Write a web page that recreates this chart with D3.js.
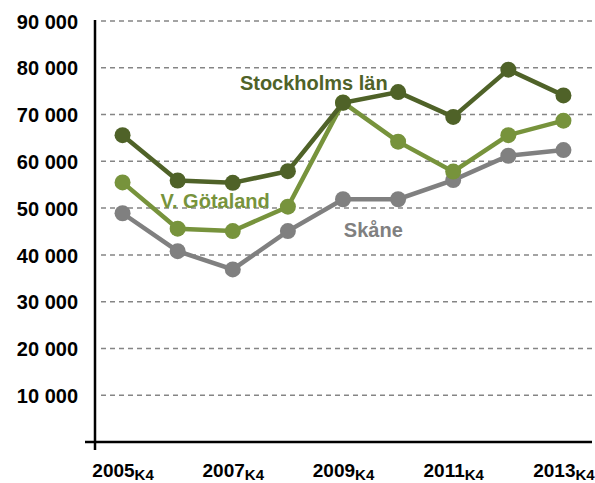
<!DOCTYPE html>
<html>
<head>
<meta charset="utf-8">
<script src="https://cdn.jsdelivr.net/npm/d3@7/dist/d3.min.js"></script>
<style>
  body { margin: 0; background: #fff; }
  text { font-family: "Liberation Sans", Arial, sans-serif; font-weight: bold; }
</style>
</head>
<body>
<script>
// years on the x axis (quarter 4 of each year)
var years = ["2005", "2006", "2007", "2008", "2009", "2010", "2011", "2012", "2013"];

// values
var stockholm = [65600, 55900, 55400, 57900, 72500, 74800, 69500, 79600, 74100];
var vGotaland = [55500, 45600, 45100, 50300, 72600, 64200, 57800, 65600, 68700];
var skane     = [48900, 40800, 36900, 45100, 51900, 51900, 56000, 61200, 62400];

var yTicks = [10000, 20000, 30000, 40000, 50000, 60000, 70000, 80000, 90000];
var xTickYears = ["2005", "2007", "2009", "2011", "2013"];

// core settings
var width = 595, height = 483;

var svg = d3.select("body")
    .append("svg")
    .attr("width", width)
    .attr("height", height);

var x = d3.scalePoint()
    .domain(years)
    .range([95, 591])
    .padding(0.5);

var y = d3.scaleLinear()
    .domain([0, 90000])
    .range([442, 21]);

// dashed grid lines
svg.append("g")
    .selectAll("line")
    .data(yTicks)
    .join("line")
    .attr("x1", 101)
    .attr("x2", width)
    .attr("y1", d => y(d))
    .attr("y2", d => y(d))
    .attr("stroke", "#858585")
    .attr("stroke-width", 1.5)
    .attr("stroke-dasharray", "5,4");

// y axis, labels only - the line is drawn below
var yAxis = d3.axisLeft(y)
    .tickValues(yTicks)
    .tickSize(0)
    .tickPadding(17)
    .tickFormat(d => d3.format(",")(d).replace(",", " "));

var yAxisGroup = svg.append("g")
    .attr("transform", "translate(95,0)")
    .call(yAxis);
yAxisGroup.select(".domain").remove();
yAxisGroup.selectAll(".tick text")
    .attr("font-size", 20)
    .attr("font-family", null)
    .attr("fill", "#000")
    .attr("dy", "0.36em");

// x axis with "K4" as a subscript
var xAxis = d3.axisBottom(x)
    .tickValues(xTickYears)
    .tickSize(0)
    .tickFormat("");

var xAxisGroup = svg.append("g")
    .attr("transform", "translate(0,442)")
    .call(xAxis);
xAxisGroup.select(".domain").remove();
var xLabel = xAxisGroup.selectAll(".tick text")
    .attr("font-family", null)
    .attr("fill", "#000")
    .attr("y", 35)
    .attr("dy", null)
    .attr("text-anchor", "middle");
xLabel.append("tspan").attr("font-size", 19).text(d => d);
xLabel.append("tspan").attr("font-size", 15).attr("dy", 3).text("K4");

// axis lines
svg.append("line")
    .attr("x1", 85).attr("x2", 592)
    .attr("y1", y(0)).attr("y2", y(0))
    .attr("stroke", "#000").attr("stroke-width", 2.5);
svg.append("line")
    .attr("x1", 95).attr("x2", 95)
    .attr("y1", 20).attr("y2", 450)
    .attr("stroke", "#000").attr("stroke-width", 2.5);

// series, drawn back to front
var series = [
    { name: "Skåne", values: skane, colour: "#808080", at: 4.55, value: 43800 },
    { name: "V. Götaland", values: vGotaland, colour: "#77933c", at: 1.68, value: 50000 },
    { name: "Stockholms län", values: stockholm, colour: "#4f6228", at: 3.47, value: 75300 }
];

var line = d3.line()
    .x((d, i) => x(years[i]))
    .y(d => y(d));

series.forEach(function (s) {
    var g = svg.append("g");
    g.append("path")
        .datum(s.values)
        .attr("fill", "none")
        .attr("stroke", s.colour)
        .attr("stroke-width", 4.5)
        .attr("d", line);
    g.selectAll("circle")
        .data(s.values)
        .join("circle")
        .attr("cx", (d, i) => x(years[i]))
        .attr("cy", d => y(d))
        .attr("r", 8)
        .attr("fill", s.colour);
});

// series labels
series.forEach(function (s) {
    svg.append("text")
        .attr("x", x(years[0]) + s.at * x.step())
        .attr("y", y(s.value))
        .attr("text-anchor", "middle")
        .attr("font-size", 20)
        .attr("fill", s.colour)
        .text(s.name);
});
</script>
</body>
</html>
